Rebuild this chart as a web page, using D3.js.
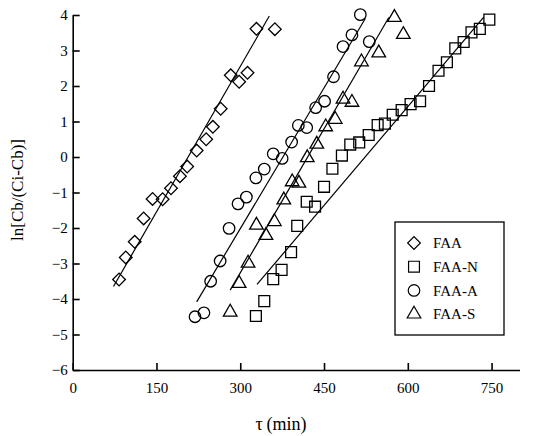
<!DOCTYPE html>
<meta charset="utf-8">
<style>
  body { margin: 0; background: #fff; }
  svg text { font-family: "Liberation Serif", "Times New Roman", serif; fill: #000; }
</style>
<body>
<script src="https://cdn.jsdelivr.net/npm/d3@7"></script>
<script>
// ===== data =====
const faaX = [83, 95, 111, 127, 143, 161, 176, 192, 205, 222, 239, 251, 265, 283, 298, 313, 329, 362];
const faaY = [-3.45, -2.83, -2.39, -1.73, -1.18, -1.19, -0.88, -0.54, -0.27, 0.18, 0.50, 0.85, 1.36, 2.30, 2.12, 2.37, 3.61, 3.60];

const faaNX = [328, 343, 359, 374, 391, 402, 419, 434, 450, 465, 482, 497, 513, 530, 546, 559, 573, 589, 605, 622, 638, 655, 670, 685, 700, 714, 729, 746];
const faaNY = [-4.48, -4.06, -3.44, -3.18, -2.68, -1.94, -1.26, -1.40, -0.84, -0.33, 0.04, 0.35, 0.41, 0.62, 0.90, 0.94, 1.19, 1.32, 1.49, 1.57, 2.00, 2.43, 2.67, 3.06, 3.24, 3.51, 3.61, 3.87];

const faaAX = [219, 235, 247, 264, 280, 296, 311, 328, 343, 359, 375, 392, 404, 419, 435, 451, 467, 484, 500, 515, 531];
const faaAY = [-4.50, -4.39, -3.50, -2.93, -2.01, -1.32, -1.13, -0.59, -0.34, 0.09, -0.04, 0.42, 0.89, 0.83, 1.39, 1.57, 2.26, 3.11, 3.44, 4.01, 3.25];

const faaSX = [282, 298, 314, 329, 346, 361, 378, 393, 405, 420, 437, 453, 470, 484, 500, 517, 548, 576, 592];
const faaSY = [-4.37, -3.56, -2.99, -1.92, -2.21, -1.82, -1.21, -0.70, -0.74, -0.02, 0.36, 0.85, 1.06, 1.63, 1.54, 2.68, 2.93, 3.93, 3.45];

// fitted lines: [start, end]
const faaLineX = [73, 352],  faaLineY = [-3.65, 3.97];
const faaNLineX = [330, 736], faaNLineY = [-3.59, 3.94];
const faaALineX = [222, 524], faaALineY = [-4.08, 3.90];
const faaSLineX = [282, 566], faaSLineY = [-3.75, 3.93];

const xTicks = [0, 150, 300, 450, 600, 750];
const yTicks = [-6, -5, -4, -3, -2, -1, 0, 1, 2, 3, 4];
const seriesNames = ['FAA', 'FAA-N', 'FAA-A', 'FAA-S'];

// ===== setup =====
const width = 540, height = 436;
const serif = '"Liberation Serif", "Times New Roman", serif';
const svg = d3.select('body').append('svg')
    .attr('width', width)
    .attr('height', height);

const x = d3.scaleLinear().domain([0, 800]).range([72.7, 519.5]);
const y = d3.scaleLinear().domain([-6, 4]).range([370, 15]);

const shapes = {
  'FAA':   { type: d3.symbolSquare, size: 80, rotate: 45 },
  'FAA-N': { type: d3.symbolSquare, size: 118, rotate: 0 },
  'FAA-A': { type: d3.symbolCircle, size: 104, rotate: 0 },
  'FAA-S': { type: d3.symbolTriangle, size: 80, rotate: 0 }
};

const series = [
  { name: 'FAA',   xs: faaX,  ys: faaY,  lx: faaLineX,  ly: faaLineY },
  { name: 'FAA-N', xs: faaNX, ys: faaNY, lx: faaNLineX, ly: faaNLineY },
  { name: 'FAA-A', xs: faaAX, ys: faaAY, lx: faaALineX, ly: faaALineY },
  { name: 'FAA-S', xs: faaSX, ys: faaSY, lx: faaSLineX, ly: faaSLineY }
];

// Axes
const xAxis = svg.append('g')
    .attr('transform', `translate(0,${y(-6)})`)
    .call(d3.axisBottom(x).tickValues(xTicks).tickSizeInner(-7).tickSizeOuter(0).tickPadding(12));
const yAxis = svg.append('g')
    .attr('transform', `translate(${x(0)},0)`)
    .call(d3.axisLeft(y).tickValues(yTicks).tickSizeInner(-7).tickSizeOuter(0).tickPadding(5)
      .tickFormat(d => d < 0 ? '\u2212' + Math.abs(d) : d));

[xAxis, yAxis].forEach(a => {
  a.attr('font-family', serif).attr('font-size', 15);
  a.select('.domain').attr('stroke', '#000').attr('stroke-width', 1.6);
  a.selectAll('.tick line').attr('stroke', '#000').attr('stroke-width', 1.6);
  a.selectAll('.tick text').style('font-family', serif).style('font-size', '15px').attr('fill', '#000');
});

// Fit lines
const line = d3.line().x(d => x(d[0])).y(d => y(d[1]));
svg.selectAll('.fit')
  .data(series)
  .enter()
  .append('path')
    .attr('class', 'fit')
    .attr('fill', 'none')
    .attr('stroke', '#000')
    .attr('stroke-width', 1.2)
    .attr('d', s => line(d3.zip(s.lx, s.ly)));

// Points
const sym = name => d3.symbol().type(shapes[name].type).size(shapes[name].size)();
series.forEach(s => {
  svg.append('g').selectAll('path')
    .data(d3.zip(s.xs, s.ys))
    .enter()
    .append('path')
      .attr('d', sym(s.name))
      .attr('transform', d => `translate(${x(d[0])},${y(d[1])}) rotate(${shapes[s.name].rotate})`)
      .attr('fill', 'none')
      .attr('stroke', '#000')
      .attr('stroke-width', 1.3);
});

// Legend
const legend = svg.append('g');
legend.append('rect')
    .attr('x', 395).attr('y', 222)
    .attr('width', 109).attr('height', 113)
    .attr('fill', '#fff')
    .attr('stroke', '#000')
    .attr('stroke-width', 1.3);

const item = legend.selectAll('.item')
  .data(seriesNames)
  .enter()
  .append('g')
    .attr('transform', (d, i) => `translate(414,${243 + i * 23.7})`);

item.append('path')
    .attr('d', d => sym(d))
    .attr('transform', d => `rotate(${shapes[d].rotate})`)
    .attr('fill', 'none')
    .attr('stroke', '#000')
    .attr('stroke-width', 1.2);

item.append('text')
    .attr('x', 19)
    .attr('dy', '0.35em')
    .style('font-size', '15px')
    .text(d => d);

// Axis titles
svg.append('text')
    .attr('x', 281).attr('y', 430)
    .attr('text-anchor', 'middle')
    .style('font-size', '18px')
    .text('\u03c4\u2009(min)');

svg.append('text')
    .attr('transform', 'translate(23,190) rotate(-90)')
    .attr('text-anchor', 'middle')
    .style('font-size', '17px')
    .text('ln[Cb/(Ci-Cb)]');
</script>
</body>
